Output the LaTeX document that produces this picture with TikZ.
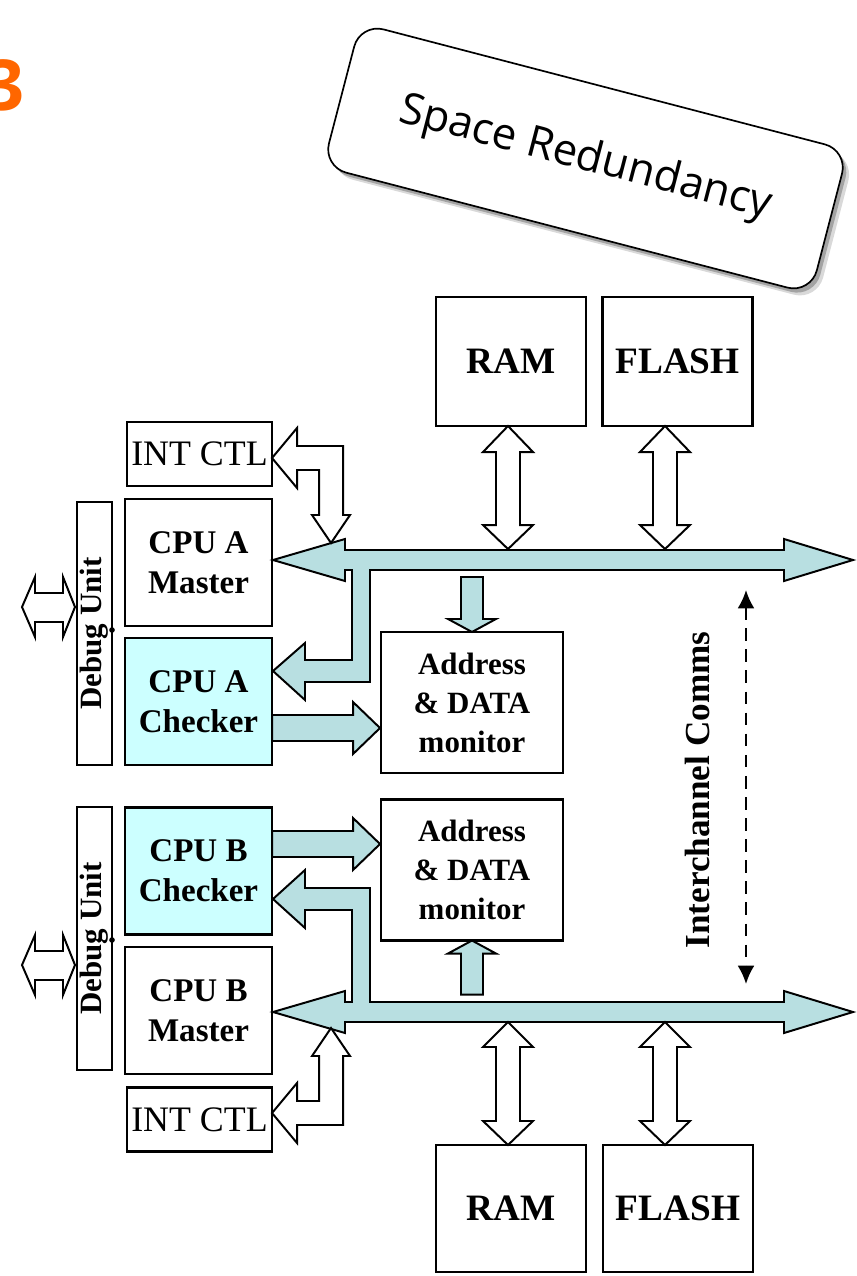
\documentclass[tikz,border=0pt]{standalone}
\usepackage{fontspec}
\setmainfont{Liberation Serif}
\newfontfamily\slidefont{Open Sans}
\usetikzlibrary{arrows.meta,shadows}

\definecolor{busteal}{RGB}{184,223,225}
\definecolor{checkcyan}{RGB}{204,255,255}
\definecolor{slideorange}{RGB}{255,102,0}

\begin{document}
\begin{tikzpicture}[x=0.025cm,y=-0.025cm,
		blk/.style={draw,line width=1.7pt,inner sep=0pt,outer sep=0pt,align=center,
			font=\fontsize{23.5}{28.5}\selectfont\bfseries},
		mem/.style={blk,minimum width=3.75cm,font=\fontsize{26.5}{30}\selectfont\bfseries},
		cpu/.style={blk,minimum width=3.675cm,minimum height=3.175cm},
		checker/.style={cpu,fill=checkcyan},
		intctl/.style={blk,minimum width=3.625cm,minimum height=1.6cm,font=\fontsize{25.5}{30}\selectfont},
		debug/.style={blk,minimum width=0.875cm,minimum height=6.575cm,font=\fontsize{22}{25}\selectfont\bfseries},
		monitor/.style={blk,minimum width=4.55cm,minimum height=3.525cm,font=\fontsize{22}{27.7}\selectfont\bfseries},
		bus/.style={draw,line width=1.4pt,fill=busteal},
		hollow/.style={draw,line width=1.4pt,fill=white},
	]
		\useasboundingbox (0,0) rectangle (856,1276);

		\node[anchor=base east,inner sep=0pt,text=slideorange,font=\slidefont\bfseries\fontsize{50}{60}\selectfont] (pagenum) at (25,110) {3};

		\node[draw,fill=white,line width=1.2pt,rounded corners=0.6cm,rotate=-14.6,
			minimum width=12.6cm,minimum height=3.7cm,
			drop shadow={opacity=0.3,shadow xshift=4.5pt,shadow yshift=-5pt},
			drop shadow={opacity=0.6,shadow xshift=2.5pt,shadow yshift=-3pt},
			font=\slidefont\fontsize{31}{36}\selectfont] (callout) at (585.5,158.5) {Space Redundancy};

		% channel A
		\node[mem,minimum height=3.225cm] (ramA)   at (511,361.5) {RAM};
		\node[mem,minimum height=3.225cm] (flashA) at (677.5,361.5) {FLASH};
		\node[intctl]  (intA) at (199.5,454) {INT CTL};
		\node[cpu]     (cpuAm) at (198.5,562.5) {CPU A\\Master};
		\node[checker] (cpuAc) at (198.5,701.5) {CPU A\\Checker};
		\node[debug]   (dbgA) at (94.5,633.5) {\rotatebox{90}{Debug Unit}};
		\node[monitor] (monA) at (472,702.5) {Address\\\& DATA\\monitor};

		% channel B
		\node[monitor] (monB) at (472,870) {Address\\\& DATA\\monitor};
		\node[checker] (cpuBc) at (198.5,871) {CPU B\\Checker};
		\node[cpu]     (cpuBm) at (198.5,1010.5) {CPU B\\Master};
		\node[intctl]  (intB) at (199.5,1119.5) {INT CTL};
		\node[debug]   (dbgB) at (94.5,938.5) {\rotatebox{90}{Debug Unit}};
		\node[mem,minimum height=3.175cm] (ramB)   at (511,1208.5) {RAM};
		\node[mem,minimum height=3.175cm] (flashB) at (678,1208.5) {FLASH};

		\coordinate (busAw) at (273,560);
		\coordinate (busBw) at (273,1012);
		\coordinate (icTop) at (746,590);
		\coordinate (icBot) at (746,984);

		% buses with the branch to the checker
		\draw[bus] (busAw) -- ++(72,-21) -- ++(0,11) -- ++(439,0) -- ++(0,-11) -- ++(69,21)
			-- ++(-69,21) -- ++(0,-11) -- ++(-414,0) -- ++(0,112) -- ++(-65,0) -- ++(0,18)
			-- ++(-32,-29) -- ++(32,-28) -- ++(0,17) -- ++(47,0) -- ++(0,-90) -- ++(-7,0) -- ++(0,11) -- cycle;
		\draw[bus] (busBw) -- ++(72,-21) -- ++(0,11) -- ++(7,0) -- ++(0,-92) -- ++(-47,0) -- ++(0,18)
			-- ++(-32,-29) -- ++(32,-29) -- ++(0,18) -- ++(65,0) -- ++(0,114) -- ++(414,0) -- ++(0,-11)
			-- ++(69,21) -- ++(-69,21) -- ++(0,-11) -- ++(-439,0) -- ++(0,11) -- cycle;

		% checker -> monitor, bus -> monitor
		\draw[bus] (cpuAc.east) ++(0,13.5) -- ++(81,0) -- ++(0,-13) -- ++(27,26) -- ++(-27,26) -- ++(0,-13) -- ++(-81,0) -- cycle;
		\draw[bus] (cpuBc.east) ++(0,-40) -- ++(81,0) -- ++(0,-13) -- ++(27,26) -- ++(-27,26) -- ++(0,-13) -- ++(-81,0) -- cycle;
		\draw[bus] (monA.north) -- ++(-24,-13) -- ++(13,0) -- ++(0,-42) -- ++(22,0) -- ++(0,42) -- ++(13,0) -- cycle;
		\draw[bus] (monB.south) -- ++(-24,13) -- ++(13,0) -- ++(0,41) -- ++(22,0) -- ++(0,-41) -- ++(13,0) -- cycle;

		% memories <-> bus
		\draw[hollow] (ramA.south) ++(-3,0) -- ++(25,26) -- ++(-13,0) -- ++(0,73) -- ++(13,0) -- ++(-25,24)
			-- ++(-25,-24) -- ++(13,0) -- ++(0,-73) -- ++(-13,0) -- cycle;
		\draw[hollow] (flashA.south) ++(-12.5,0) -- ++(25,26) -- ++(-13,0) -- ++(0,73) -- ++(13,0) -- ++(-25,24)
			-- ++(-25,-24) -- ++(13,0) -- ++(0,-73) -- ++(-13,0) -- cycle;
		\draw[hollow] (ramB.north) ++(-3,0) -- ++(25,-24) -- ++(-13,0) -- ++(0,-74) -- ++(13,0) -- ++(-25,-25)
			-- ++(-25,25) -- ++(13,0) -- ++(0,74) -- ++(-13,0) -- cycle;
		\draw[hollow] (flashB.north) ++(-13,0) -- ++(25,-24) -- ++(-13,0) -- ++(0,-74) -- ++(13,0) -- ++(-25,-25)
			-- ++(-25,25) -- ++(13,0) -- ++(0,74) -- ++(-13,0) -- cycle;

		% interrupt controllers <-> bus
		\draw[hollow] (intA.east) ++(0,4) -- ++(25,-30) -- ++(0,18) -- ++(46,0) -- ++(0,69) -- ++(7,0)
			-- ++(-19,28) -- ++(-19,-28) -- ++(7,0) -- ++(0,-45) -- ++(-22,0) -- ++(0,18) -- cycle;
		\draw[hollow] (intB.east) ++(0,-6.5) -- ++(25,30) -- ++(0,-18) -- ++(46,0) -- ++(0,-69) -- ++(7,0)
			-- ++(-19,-28) -- ++(-19,28) -- ++(7,0) -- ++(0,45) -- ++(-22,0) -- ++(0,-18) -- cycle;

		% debug ports
		\draw[hollow] (dbgA.west) ++(-2,-26.5) -- ++(-12,-30) -- ++(0,16) -- ++(-28,0) -- ++(0,-16) -- ++(-13,30)
			-- ++(13,30) -- ++(0,-15) -- ++(28,0) -- ++(0,15) -- cycle;
		\draw[hollow] (dbgB.west) ++(-2,26.5) -- ++(-12,-30) -- ++(0,16) -- ++(-28,0) -- ++(0,-16) -- ++(-13,30)
			-- ++(13,30) -- ++(0,-15) -- ++(28,0) -- ++(0,15) -- cycle;
		\fill (dbgA.east) ++(0,-3.5) circle (2pt);
		\fill (dbgB.east) ++(0,1.5) circle (2pt);

		% interchannel link
		\draw[{Latex[length=13pt,width=12pt]}-{Latex[length=13pt,width=12pt]},line width=1.6pt,dash pattern=on 9pt off 6pt] (icTop) -- (icBot);
		\node[rotate=90,font=\fontsize{25}{30}\selectfont\bfseries] (icLabel) at (697,790) {Interchannel Comms};

	\end{tikzpicture}
\end{document}
